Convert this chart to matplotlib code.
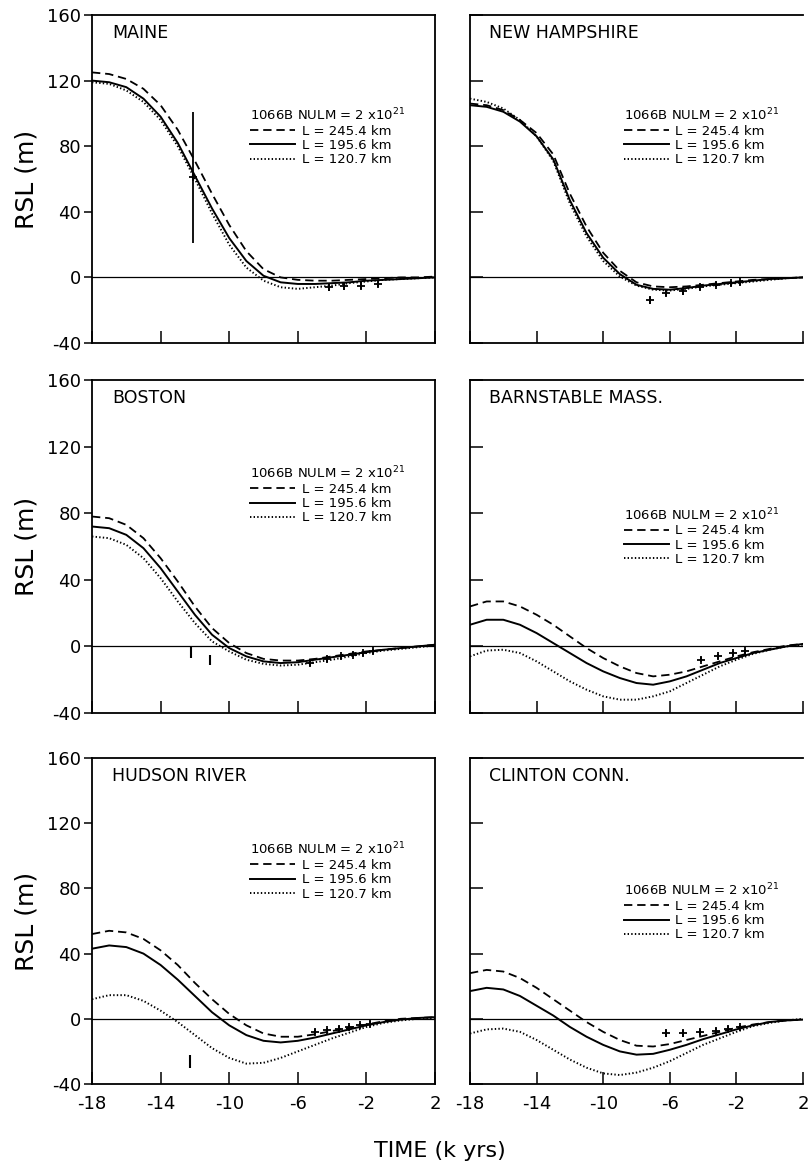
import numpy as np
import matplotlib
matplotlib.use('Agg')
import matplotlib.pyplot as plt

plt.rcParams['font.family'] = 'DejaVu Sans'
plt.rcParams['axes.unicode_minus'] = False
plt.rcParams['lines.scale_dashes'] = False

# time axis (kyr), one value per kyr
years = list(range(-18, 3))

# RSL curves (m) for L = 245.4 km (dashed), 195.6 km (solid), 120.7 km (dotted)
maine_245 = [125, 124, 121, 115, 105, 90, 71, 51, 32, 16, 5, 0, -1.5, -2, -2, -1.5, -1, -0.5, 0, 0, 0.5]
maine_196 = [120, 119, 116, 109, 98, 82, 62, 42, 24, 10, 1, -3, -4, -4, -3.5, -3, -2, -1.5, -1, -0.5, 0]
maine_121 = [119, 118, 114, 107, 96, 80, 60, 39, 20, 6, -2, -6, -7, -6, -5, -3.5, -2.5, -1.5, -1, -0.5, 0]

nh_245 = [106, 105, 102, 96, 88, 75, 51, 31, 15, 4, -3, -5.5, -6, -5.5, -4.5, -3.5, -2.5, -1.5, -1, -0.5, 0]
nh_196 = [105, 104, 101, 95, 86, 72, 47, 27, 12, 2, -4.5, -7, -7.5, -6.5, -5, -4, -3, -2, -1, -0.5, 0]
nh_121 = [109, 107, 103, 96, 86, 71, 45, 25, 10, 0.5, -5, -7.5, -8, -7, -5.5, -4.5, -3.5, -2.5, -1.5, -0.5, 0]

boston_245 = [78, 77, 73, 65, 53, 39, 24, 11, 2, -4, -7.5, -8.5, -8.5, -7.5, -6, -4.5, -3, -2, -1, 0, 1]
boston_196 = [72, 71, 67, 59, 47, 33, 19, 7, -1, -6, -9, -10, -9.5, -8, -6.5, -5, -3.5, -2, -1, 0, 1]
boston_121 = [66, 65, 61, 53, 41, 27, 14, 3, -3, -8, -10.5, -11.5, -11, -9.5, -8, -6, -4, -2.5, -1.5, -0.5, 0.5]

barn_245 = [24, 27, 27, 24, 19, 13, 6, -1, -7, -12, -16, -18, -17, -15, -12, -9, -6, -3.5, -1.5, 0.5, 1.5]
barn_196 = [13, 16, 16, 13, 8, 2, -4, -10, -15, -19, -22, -23, -21, -18, -14, -10, -7, -4, -2, 0, 1.5]
barn_121 = [-6, -2.5, -2, -4, -9, -15, -21, -26, -30, -32, -32, -30, -27, -22, -17, -12, -8, -4.5, -2, 0, 1]

hudson_245 = [52, 54, 53, 49, 42, 33, 22, 12, 3, -4, -9, -11, -11, -9.5, -7.5, -5.5, -3.5, -1.5, 0, 0.5, 1]
hudson_196 = [43, 45, 44, 40, 33, 24, 14, 4, -4, -10, -13.5, -14.5, -13.5, -11.5, -9, -6.5, -4, -2, -0.5, 0.5, 1]
hudson_121 = [12, 14.5, 14.5, 11, 5, -2, -10, -18, -24, -27.5, -27, -24, -20, -16, -12, -8.5, -5, -2.5, -1, 0, 0.5]

clinton_245 = [28, 30, 29, 25, 19, 12, 5, -2, -8, -13, -16.5, -17, -15.5, -13, -10.5, -8, -5.5, -3.5, -2, -1, -0.5]
clinton_196 = [17, 19, 18, 14, 8, 2, -5, -11, -16, -20, -22, -21.5, -19, -16, -12.5, -9.5, -6.5, -4, -2, -1, -0.5]
clinton_121 = [-9, -6.5, -6, -8, -13, -19, -25, -30, -33.5, -34.5, -33, -30, -26, -21, -16, -12, -8, -4.5, -2.5, -1, 0]

# observed RSL points (+ with error bars)
maine_obs_x = [-12.1, -4.2, -3.3, -2.3, -1.3]
maine_obs_y = [61, -6, -5.5, -5, -4]
maine_obs_err = [40, 2, 2, 2, 2]

nh_obs_x = [-7.2, -6.2, -5.2, -4.2, -3.2, -2.3, -1.8]
nh_obs_y = [-14, -9.5, -8.5, -6, -4.5, -3.5, -3]
nh_obs_err = [2, 2, 2, 1.5, 1.5, 1.5, 1.5]

boston_obs_x = [-5.3, -4.3, -3.5, -2.8, -2.2, -1.6]
boston_obs_y = [-10, -7.5, -6, -5, -4, -3]
boston_obs_err = [2, 2, 1.5, 1.5, 1.5, 1.5]

barn_obs_x = [-4.1, -3.1, -2.2, -1.5]
barn_obs_y = [-8, -6, -4, -3]
barn_obs_err = [1.5, 1.5, 1.5, 1.5]

hudson_obs_x = [-5, -4.3, -3.6, -3, -2.4, -1.8]
hudson_obs_y = [-8, -7, -6, -5, -4, -3]
hudson_obs_err = [1.5, 1.5, 1.5, 1.5, 1.5, 1.5]

clinton_obs_x = [-6.2, -5.2, -4.2, -3.2, -2.5, -1.8]
clinton_obs_y = [-9, -9, -8, -7.5, -6, -5]
clinton_obs_err = [2, 2, 2, 2, 1.5, 1.5]

# plain range bars (no centre mark): x, bottom, top
boston_bar_x = [-12.2, -11.1]
boston_bar_lo = [-7, -11]
boston_bar_hi = [0, -5]
hudson_bar_x = [-12.3]
hudson_bar_lo = [-30]
hudson_bar_hi = [-22]

site_names = ['MAINE', 'NEW HAMPSHIRE', 'BOSTON', 'BARNSTABLE MASS.', 'HUDSON RIVER', 'CLINTON CONN.']
curves = [(maine_245, maine_196, maine_121), (nh_245, nh_196, nh_121),
          (boston_245, boston_196, boston_121), (barn_245, barn_196, barn_121),
          (hudson_245, hudson_196, hudson_121), (clinton_245, clinton_196, clinton_121)]
obs = [(maine_obs_x, maine_obs_y, maine_obs_err), (nh_obs_x, nh_obs_y, nh_obs_err),
       (boston_obs_x, boston_obs_y, boston_obs_err), (barn_obs_x, barn_obs_y, barn_obs_err),
       (hudson_obs_x, hudson_obs_y, hudson_obs_err), (clinton_obs_x, clinton_obs_y, clinton_obs_err)]
bars = {2: (boston_bar_x, boston_bar_lo, boston_bar_hi),
        4: (hudson_bar_x, hudson_bar_lo, hudson_bar_hi)}
# legend header height (axes fraction) per panel
legend_y = [0.72, 0.72, 0.745, 0.62, 0.745, 0.62]

xticks = [-18, -14, -10, -6, -2, 2]
yticks = [-40, 0, 40, 80, 120, 160]
labels_L = ['L = 245.4 km', 'L = 195.6 km', 'L = 120.7 km']

fig = plt.figure(figsize=(8.08, 11.68), dpi=100)

col_x = [92 / 808, 470 / 808]
col_w = [343 / 808, 333 / 808]
rows = [(15, 343), (380, 713), (758, 1084)]

for i in range(6):
    r, c = i // 2, i % 2
    top, bot = rows[r]
    ax = fig.add_axes([col_x[c], 1 - bot / 1168, col_w[c], (bot - top) / 1168])
    ax.set_xlim(-18, 2)
    ax.set_ylim(-40, 160)
    ax.axhline(0, color='black', lw=0.9)

    d, s, o = curves[i]
    h1, = ax.plot(years, d, color='black', lw=1.3, dashes=(6, 3.5))
    h2, = ax.plot(years, s, color='black', lw=1.4)
    h3, = ax.plot(years, o, color='black', lw=1.4, dashes=(1, 1.6))

    ox, oy, oe = obs[i]
    ax.errorbar(ox, oy, yerr=oe, fmt='+', color='black', ms=6, mew=1.3,
                elinewidth=1.3, capsize=0)
    if i in bars:
        bx, blo, bhi = bars[i]
        ax.vlines(bx, blo, bhi, color='black', lw=1.5)

    ax.text(0.058, 0.945, site_names[i], transform=ax.transAxes,
            fontsize=12.5, va='center', ha='left')

    leg = ax.legend([h1, h2, h3], labels_L, loc='upper left',
                    bbox_to_anchor=(0.462, legend_y[i]), frameon=False,
                    fontsize=9.5, title='1066B NULM = 2 x10$^{21}$',
                    title_fontsize=9.5, alignment='left', borderpad=0,
                    borderaxespad=0, handlelength=3.4, handletextpad=0.5,
                    labelspacing=0.1)

    ax.set_xticks(xticks)
    ax.set_yticks(yticks)
    ax.tick_params(axis='x', direction='in', length=9, width=1.1,
                   labelsize=13, pad=8)
    if r < 2:
        ax.tick_params(axis='x', labelbottom=False)
    for sp in ax.spines.values():
        sp.set_linewidth(1.3)
    if c == 0:
        ax.tick_params(axis='y', direction='out', length=6, width=1.1,
                       labelsize=13, pad=2)
        ax.set_ylabel('RSL (m)', fontsize=18, labelpad=6)
    else:
        ax.tick_params(axis='y', direction='in', length=9, width=1.1,
                       labelleft=False)
        # right border falls outside the cropped figure
        ax.spines['right'].set_visible(False)

fig.text(0.545, 0.006, 'TIME (k yrs)', ha='center', va='bottom', fontsize=16)

fig.savefig('out.png', dpi=100)
